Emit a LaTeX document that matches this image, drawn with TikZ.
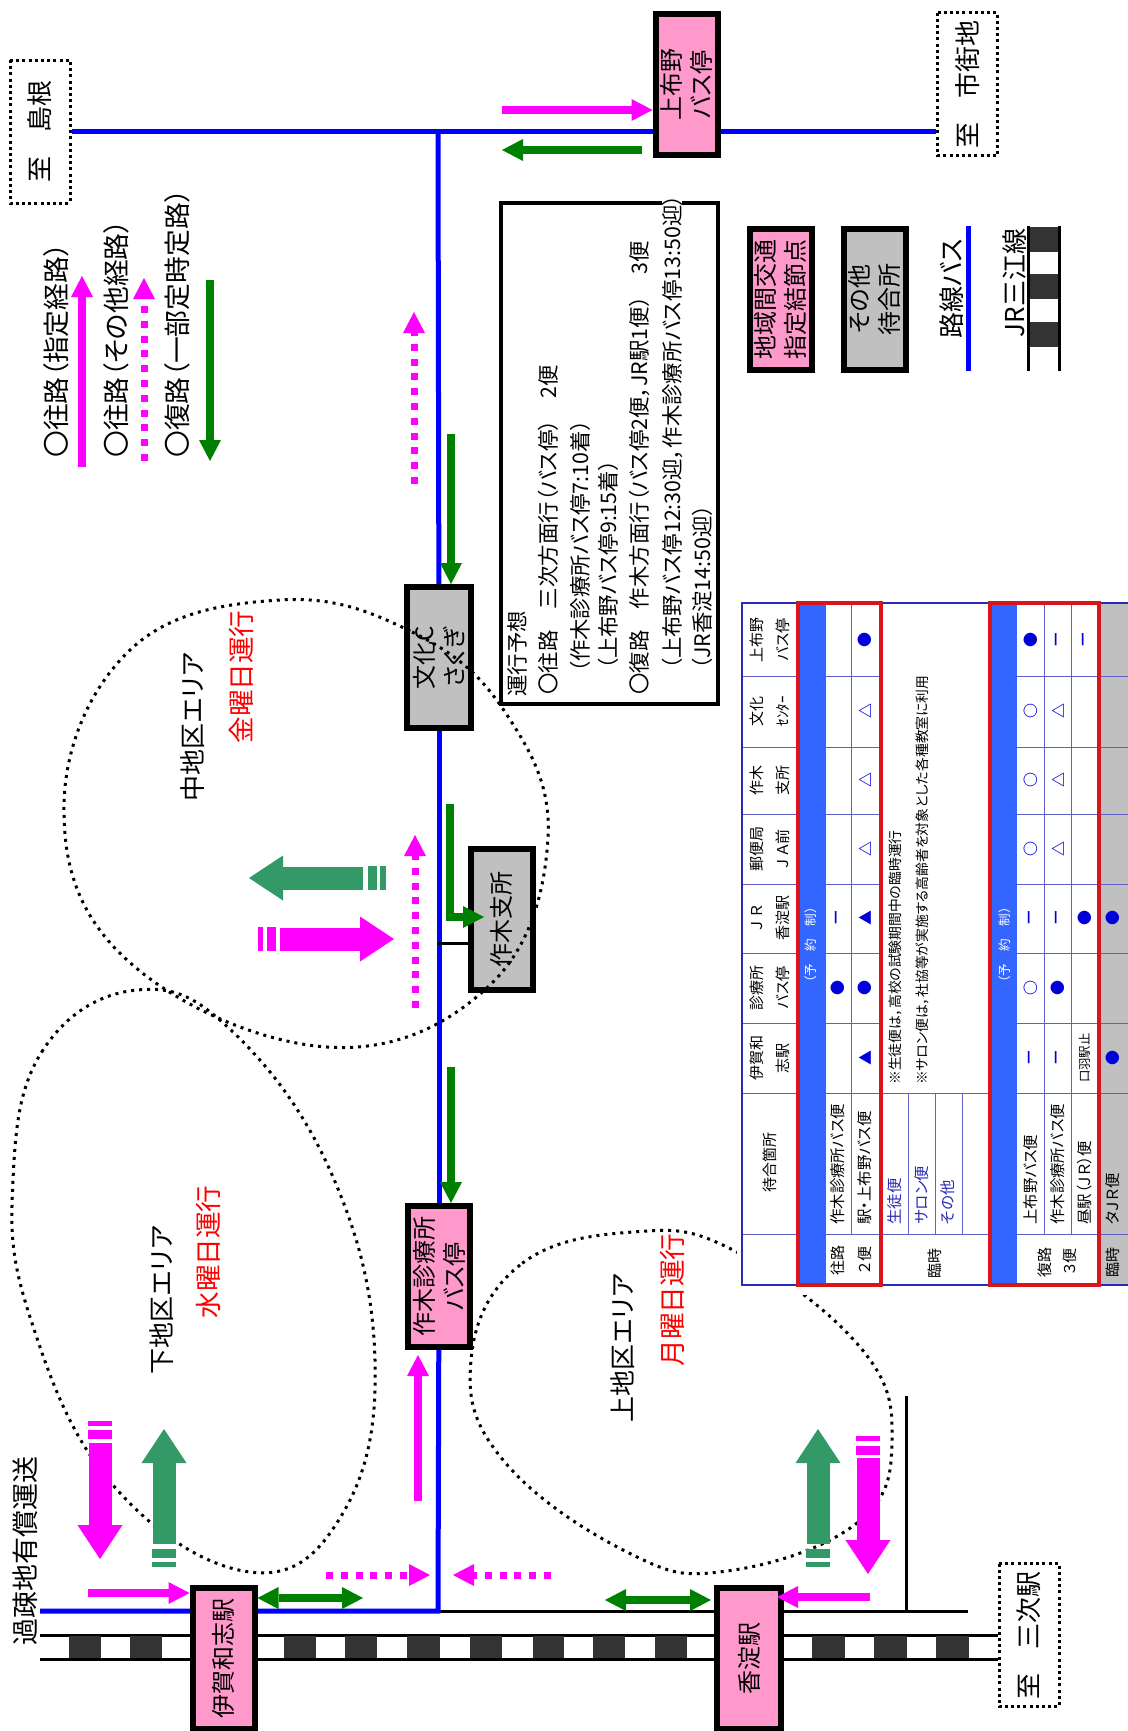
\documentclass[tikz,border=0pt]{standalone}
\usepackage{fontspec}
\setmainfont{Noto Sans CJK JP}[RawFeature={+palt}]
\usetikzlibrary{arrows.meta,backgrounds}

\definecolor{stoppink}{HTML}{FF99CC}
\definecolor{stopgray}{HTML}{C0C0C0}
\definecolor{routepink}{HTML}{FF00FF}
\definecolor{routegreen}{HTML}{008000}
\definecolor{widegreen}{HTML}{339966}
\definecolor{railblack}{HTML}{333333}
\definecolor{tblblue}{HTML}{2A2AB8}
\definecolor{tblband}{HTML}{3366FF}
\definecolor{tblred}{HTML}{D8151B}

\tikzset{
  stopbox/.style={draw=black,line width=3pt,rotate=90,inner sep=0pt,align=center,
    minimum width=70.5pt,minimum height=31pt,font=\fontsize{12}{15}\selectfont},
  pinkstop/.style={stopbox,fill=stoppink},
  graystop/.style={stopbox,fill=stopgray},
  tobox/.style={draw=black,line width=1.5pt,dash pattern=on 1.5pt off 1.6pt,rotate=90,inner sep=0pt,
    minimum width=71.5pt,minimum height=30pt,font=\fontsize{13}{15}\selectfont},
  labeltext/.style={rotate=90,inner sep=0pt,font=\fontsize{13}{15}\selectfont},
  keytext/.style={rotate=90,inner sep=0pt,anchor=west,font=\fontsize{13.4}{15}\selectfont},
  redtext/.style={labeltext,text=red,font=\fontsize{13.3}{15}\selectfont},
  infotext/.style={rotate=90,inner sep=0pt,anchor=west,font=\fontsize{10.7}{12}\selectfont},
  celltext/.style={rotate=90,inner sep=0pt,font=\fontsize{7.5}{13}\selectfont,align=center},
  rowtext/.style={celltext,anchor=west,font=\fontsize{7.7}{13}\selectfont},
  marktext/.style={celltext,text=blue!85!black,font=\fontsize{7.5}{13}\selectfont\bfseries},
  busline/.style={blue,line width=2.5pt},
  blackline/.style={black,line width=1.5pt},
  zoneline/.style={black,line width=1.5pt,dash pattern=on 1.5pt off 2.5pt},
  pinkarrow/.style={routepink,line width=4pt,-{Triangle[length=10.5pt,width=11pt,line width=0pt]}},
  dotarrow/.style={routepink,line width=3.5pt,dash pattern=on 3.5pt off 3.9pt,-{Triangle[length=10.5pt,width=11pt,line width=0pt]}},
  greenarrow/.style={routegreen,line width=4pt,-{Triangle[length=10.5pt,width=11pt,line width=0pt]}},
  greenboth/.style={routegreen,line width=4pt,{Triangle[length=10.5pt,width=11pt,line width=0pt]}-{Triangle[length=10.5pt,width=11pt,line width=0pt]}},
  bigpink/.style={routepink,line width=11.5pt,-{Triangle[length=17pt,width=22.5pt,line width=0pt]}},
  biggreen/.style={widegreen,line width=11.5pt,-{Triangle[length=17pt,width=22.5pt,line width=0pt]}},
  tblline/.style={tblblue!75,line width=0.5pt},
}

\begin{document}
\begin{tikzpicture}[x=0.5pt,y=-0.5pt]
\useasboundingbox (0,0) rectangle (1128,1731);

%=== Stops and destination boxes ===
\node[pinkstop] (ikawa) at (223.5,1658) {伊賀和志駅};
\node[pinkstop,minimum height=32pt] (koyodo) at (749,1658) {香淀駅};
\node[pinkstop] (kamifuno) at (686.5,84.5) {上布野\\バス停};
\node[pinkstop] (shinryo) at (439,1276.5) {作木診療所\\バス停};
\node[graystop,minimum height=32pt] (bunka) at (439,657.5) {文化C\\さくぎ};
\node[graystop] (shisho) at (501.5,919.5) {作木支所};
\node[tobox] (shimane) at (40,131.5) {至\hspace*{12pt}島根};
\node[tobox] (ichimachi) at (967.5,84) {至\hspace*{12pt}市街地};
\node[tobox] (miyoshi) at (1029,1635) {至\hspace*{12pt}三次駅};

% Legend boxes
\node[pinkstop] (keypink) at (780.5,299) {地域間交通\\指定結節点};
\node[graystop] (keygray) at (874.5,299) {その他\\待合所};

% Free line ends
\coordinate (jctop) at (438,131);
\coordinate (jcbot) at (438,1611);
\coordinate (kasoend) at (40,1611);
\coordinate (blackend) at (968,1611);
\coordinate (blacktop) at (906,1396);
\coordinate (blackfoot) at (906,1611);
\coordinate (branch) at (438,943);
\coordinate (railwa) at (40,1635);
\coordinate (railwb) at (40,1659);
\coordinate (keybusa) at (968,226);
\coordinate (keybusb) at (968,371);
\coordinate (keyraila) at (1028,226);
\coordinate (keyrailb) at (1028,371);
\coordinate (keyrailc) at (1059,226);
\coordinate (keyraild) at (1059,371);

%=== Bus lines and railway, under the boxes ===
\begin{scope}[on background layer]
  \draw[blackline] (jcbot) -- (blackend);
  \draw[busline] (shimane.south) -- (shimane.south -| ichimachi.north);
  \draw[busline] (jctop) -- (bunka);
  \draw[busline] (bunka) -- (shinryo);
  \draw[busline] (kasoend) -- (jcbot) -- (shinryo);
  \draw[blackline] (blacktop) -- (blackfoot);
  \draw[blackline] (branch) -- (branch -| shisho.north);
  % Rails
  \draw[blackline] (railwa) -- (railwa -| miyoshi.north);
  \draw[blackline] (railwb) -- (railwb -| miyoshi.north);
  \foreach \a/\b in {69/101,130/162,284/316,345/377,407/440,470/502,533/564,593/625,655/687,812/845,874/907,936/969}
    \fill[railblack] (\a,1636) rectangle (\b,1658);
\end{scope}

% Legend lines
\draw[busline] (keybusa) -- (keybusb);
\draw[blackline] (keyraila) -- (keyrailb);
\draw[blackline] (keyrailc) -- (keyraild);
\foreach \a/\b in {227/252,274/299,322/347}
  \fill[railblack] (1030,\a) rectangle (1058,\b);

%=== Area labels ===
\node[labeltext] (shimoname) at (162,1300) {下地区エリア};
\node[redtext] (shimoday) at (208,1252) {水曜日運行};
\node[labeltext] (nakaname) at (193,727) {中地区エリア};
\node[redtext] (nakaday) at (241,677) {金曜日運行};
\node[labeltext] (kaminame) at (623,1348) {上地区エリア};
\node[redtext] (kamiday) at (672,1300) {月曜日運行};
\node[labeltext,font=\fontsize{13.5}{15}\selectfont] (kaso) at (25,1551) {過疎地有償運送};
\node[labeltext] (keybus) at (952,289) {路線バス};
\node[labeltext] (keyrail) at (1015,283) {JR三江線};

%=== Dotted areas, over the boxes ===
\draw[zoneline] plot[smooth cycle,tension=0.7] coordinates {(137,990) (43,1050) (13,1180) (30,1317) (112,1484) (250,1572) (343,1513) (375,1360) (333,1177) (233,1032)};
\draw[zoneline] plot[smooth cycle,tension=0.68] coordinates {(280,600) (412,632) (505,712) (548,837) (490,985) (327,1047) (127,960) (64,806) (130,650)};
\draw[zoneline] plot[smooth cycle,tension=0.7] coordinates {(633,1232) (520,1265) (471,1360) (503,1460) (629,1553) (727,1571) (857,1523) (892,1440) (860,1347) (733,1250)};

%=== Route arrows ===
\coordinate (upa) at (502,110);
\draw[pinkarrow] (upa) -- (upa -| kamifuno.north);
\coordinate (dna) at (642,150); \coordinate (dnb) at (502,150);
\draw[greenarrow] (dna) -- (dnb);
\coordinate (gra) at (451,434);
\draw[greenarrow] (gra) -- (gra |- bunka.east);
\coordinate (grb) at (451,1067);
\draw[greenarrow] (grb) -- (grb |- shinryo.east);
\coordinate (grc) at (450,804); \coordinate (grd) at (484,917);
\draw[greenarrow] (grc) |- (grd);
\coordinate (pka) at (418,1501);
\draw[pinkarrow,shorten >=2.5pt] (pka) -- (pka |- shinryo.west);
\coordinate (dta) at (414,484); \coordinate (dtb) at (414,312);
\draw[dotarrow] (dta) -- (dtb);
\coordinate (dtc) at (415,1008); \coordinate (dtd) at (415,835);
\draw[dotarrow] (dtc) -- (dtd);
\coordinate (dte) at (326,1575); \coordinate (dtf) at (430,1575);
\draw[dotarrow] (dte) -- (dtf);
\coordinate (dtg) at (551,1575); \coordinate (dth) at (453,1575);
\draw[dotarrow] (dtg) -- (dth);
\coordinate (boa) at (363,1598);
\draw[greenboth] (boa -| ikawa.south) -- (boa);
\coordinate (bob) at (605,1600);
\draw[greenboth,shorten >=1.5pt] (bob) -- (bob -| koyodo.north);
\coordinate (pkb) at (88,1593);
\draw[pinkarrow] (pkb) -- (pkb -| ikawa.north);
\coordinate (pkc) at (870,1597); \coordinate (pkd) at (777,1597);
\draw[pinkarrow] (pkc) -- (pkd);

% Wide arrows with their stripes
\coordinate (wa) at (100,1443); \coordinate (wb) at (100,1559);
\draw[bigpink] (wa) -- (wb);
\foreach \a/\b in {1421/1426,1430/1439}
  \fill[routepink] (88,\a) rectangle (112,\b);
\coordinate (wc) at (164,1544); \coordinate (wd) at (164,1429);
\draw[biggreen] (wc) -- (wd);
\foreach \a/\b in {1549/1558,1562/1567}
  \fill[widegreen] (152,\a) rectangle (176,\b);
\coordinate (we) at (818,1544); \coordinate (wf) at (818,1429);
\draw[biggreen] (we) -- (wf);
\foreach \a/\b in {1549/1558,1562/1567}
  \fill[widegreen] (806,\a) rectangle (830,\b);
\coordinate (wg) at (868,1458); \coordinate (wh) at (868,1574);
\draw[bigpink] (wg) -- (wh);
\foreach \a/\b in {1436/1441,1446/1455}
  \fill[routepink] (856,\a) rectangle (880,\b);
\coordinate (wi) at (363,878); \coordinate (wj) at (249,878);
\draw[biggreen] (wi) -- (wj);
\foreach \a/\b in {368/377,380/386}
  \fill[widegreen] (\a,866) rectangle (\b,890);
\coordinate (wk) at (280,939); \coordinate (wl) at (394,939);
\draw[bigpink] (wk) -- (wl);
\foreach \a/\b in {258/263,267/276}
  \fill[routepink] (\a,927) rectangle (\b,951);

%=== Route key, top left ===
\node[keytext] (keyout) at (56,458) {〇往路（指定経路）};
\node[keytext] (keyother) at (116,458) {〇往路（その他経路）};
\node[keytext] (keyback) at (177,458) {〇復路（一部定時定路）};
\coordinate (ka) at (82,467); \coordinate (kb) at (82,276);
\draw[pinkarrow] (ka) -- (kb);
\coordinate (kc) at (144,461); \coordinate (kd) at (144,278);
\draw[dotarrow] (kc) -- (kd);
\coordinate (ke) at (210,280); \coordinate (kf) at (210,461);
\draw[greenarrow] (ke) -- (kf);

%=== Timetable note ===
\draw[black,line width=2pt] (501,203) rectangle (718,704);
\node[infotext] (infohead) at (517,697) {運行予想};
\node[infotext] (infoa) at (548,695) {〇往路　三次方面行（バス停）　2便};
\node[infotext] (infob) at (580,673) {（作木診療所バス停7:10着）};
\node[infotext] (infoc) at (608,670) {（上布野バス停9:15着）};
\node[infotext] (infod) at (639,695) {〇復路　作木方面行（バス停2便，JR駅1便）　3便};
\node[infotext,fill=white] (infoe) at (672,670) {（上布野バス停12:30迎，作木診療所バス停13:50迎）};
\node[infotext] (infof) at (702,670) {（JR香淀14:50迎）};

%=== Table ===
\fill[white] (737,590) rectangle (1128,1295);
\fill[stopgray] (1100,603) rectangle (1128,1285);
\fill[tblband] (797,603) rectangle (826,1285);
\fill[tblband] (990,603) rectangle (1017,1285);
% Lines between the columns
\foreach \y in {676,747,814,884,953,1023,1093,1234} {
  \draw[tblline] (742,\y) -- (797,\y);
  \draw[tblline] (826,\y) -- (881,\y);
  \draw[tblline] (1017,\y) -- (1099,\y);
  \draw[tblline] (1099,\y) -- (1128,\y);
}
\foreach \y in {1093,1234}
  \draw[tblline] (881,\y) -- (989,\y);
% Lines between the rows
\foreach \x in {851,1044,1071}
  \draw[tblline] (\x,603) -- (\x,1234);
\foreach \x in {908,935,962}
  \draw[tblline] (\x,1093) -- (\x,1234);
\draw[tblline] (1099,603) -- (1099,1285);
% Outer frame
\draw[tblblue,line width=1pt] (1128,603) -- (742,603) -- (742,1285) -- (1128,1285);
\draw[tblred,line width=2pt] (798,603) rectangle (881,1285);
\draw[tblred,line width=2pt] (990,603) rectangle (1099,1285);

% Header
\foreach \y/\ta/\tb in {640/上布野/バス停,711/文化/ｾﾝﾀｰ,780/作木/支所,849/郵便局/Ｊ Ａ前,918/Ｊ Ｒ/香淀駅,988/診療所/バス停,1058/伊賀和/志駅} {
  \node[celltext] (heada\y) at (757,\y) {\ta};
  \node[celltext] (headb\y) at (783,\y) {\tb};
}
\node[celltext] (headplace) at (770,1162) {待合箇所};
\node[celltext,text=white,font=\fontsize{6.3}{8}\selectfont] (banda) at (811,945) {（予　約　制）};
\node[celltext,text=white,font=\fontsize{6.3}{8}\selectfont] (bandb) at (1005,945) {（予　約　制）};

% Row labels
\node[celltext] (outa) at (838,1260) {往路};
\node[celltext] (outb) at (865,1260) {２便};
\node[celltext] (extraa) at (935,1263) {臨時};
\node[celltext] (backa) at (1045,1262) {復路};
\node[celltext] (backb) at (1070,1262) {３便};
\node[celltext] (extrab) at (1113,1262) {臨時};
\node[rowtext] (rowa) at (838,1225) {作木診療所バス便};
\node[rowtext] (rowb) at (865,1225) {駅・上布野バス便};
\node[rowtext,text=tblblue] (rowc) at (895,1225) {生徒便};
\node[rowtext,text=tblblue] (rowd) at (922,1225) {サロン便};
\node[rowtext,text=tblblue] (rowe) at (948,1225) {その他};
\node[rowtext] (rowf) at (1031,1225) {上布野バス便};
\node[rowtext] (rowg) at (1058,1225) {作木診療所バス便};
\node[rowtext] (rowh) at (1085,1225) {昼駅（ＪＲ）便};
\node[rowtext] (rowi) at (1113,1225) {タＪＲ便};
\node[rowtext,font=\fontsize{6.9}{8}\selectfont] (notea) at (895,1085) {※生徒便は，高校の試験期間中の臨時運行};
\node[rowtext,font=\fontsize{6.9}{8}\selectfont] (noteb) at (922,1085) {※サロン便は，社協等が実施する高齢者を対象とした各種教室に利用};

% Marks in the cells
\foreach \y/\m in {988/●,918/—}
  \node[marktext] (ca\y) at (838,\y) {\m};
\foreach \y/\m in {640/●,711/△,780/△,849/△,918/▲,988/●,1058/▲}
  \node[marktext] (cb\y) at (865,\y) {\m};
\foreach \y/\m in {640/●,711/○,780/○,849/○,918/—,988/○,1058/—}
  \node[marktext] (cc\y) at (1031,\y) {\m};
\foreach \y/\m in {640/—,711/△,780/△,849/△,918/—,988/●,1058/—}
  \node[marktext] (cd\y) at (1058,\y) {\m};
\foreach \y/\m in {640/—,918/●}
  \node[marktext] (ce\y) at (1085,\y) {\m};
\foreach \y/\m in {918/●,1058/●}
  \node[marktext] (cf\y) at (1113,\y) {\m};
\node[celltext,font=\fontsize{6.2}{8}\selectfont] (cestop) at (1085,1058) {口羽駅止};

\end{tikzpicture}
\end{document}
